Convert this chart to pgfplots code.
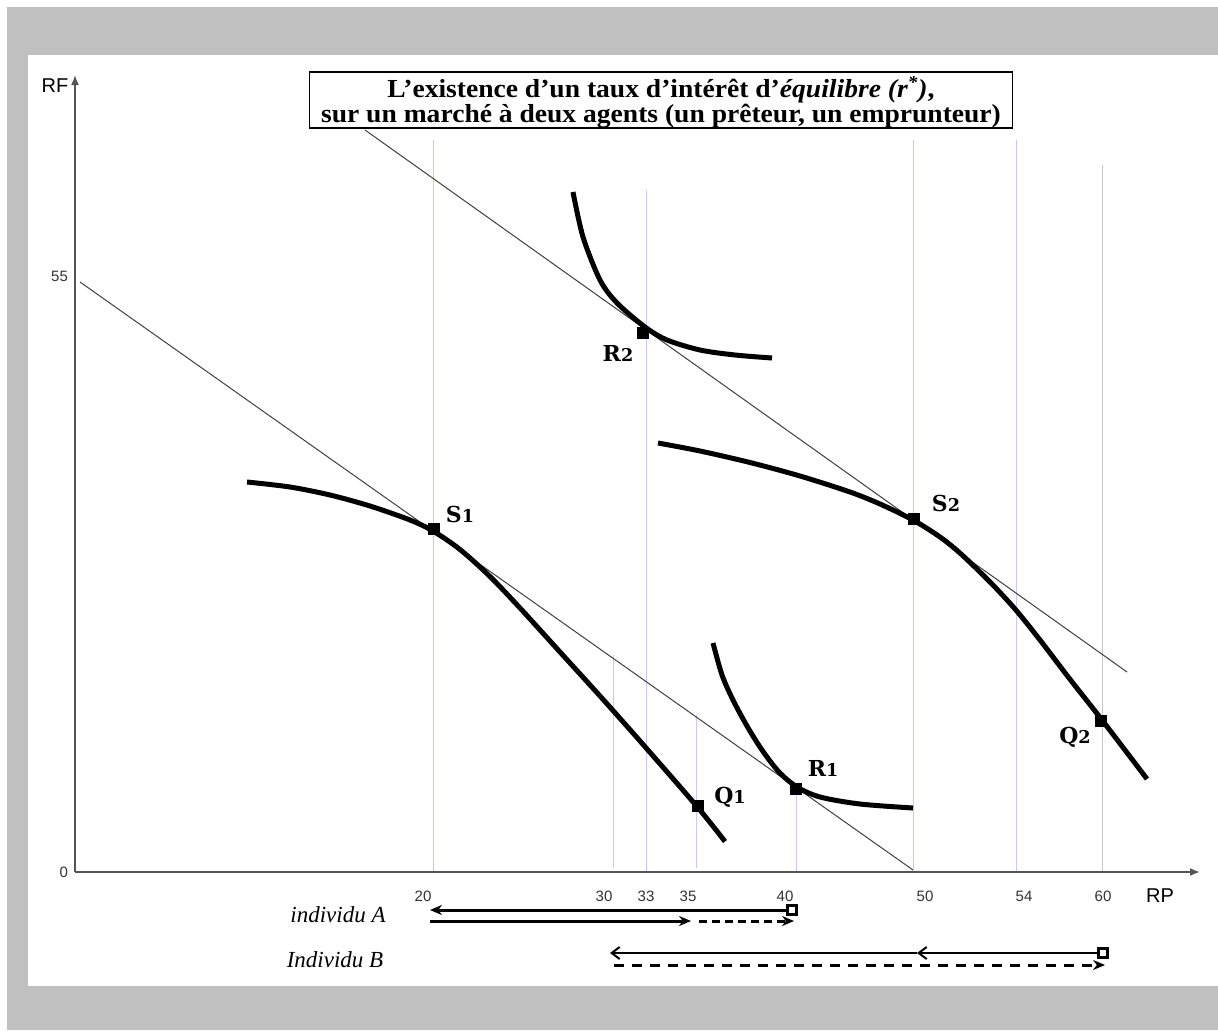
\documentclass[border=0pt]{standalone}
\usepackage{fontspec}
\setmainfont{Liberation Sans}
\newfontfamily\serifA{Liberation Serif}
\newfontfamily\serifB{DejaVu Serif}
\usepackage{pgfplots}
\pgfplotsset{compat=1.18}
\usetikzlibrary{arrows.meta}
\definecolor{bggray}{HTML}{C0C0C0}
\definecolor{vline}{HTML}{C8C8FF}
\definecolor{vgray}{HTML}{C8C8C8}
\definecolor{axgray}{HTML}{555555}
\definecolor{bline}{HTML}{404040}
\newcommand{\lbl}[2]{#1{\fontsize{8.8}{8.8}\selectfont #2}}
\begin{document}
\begin{tikzpicture}
\begin{axis}[
 x=0.5pt, y=0.5pt,
 xmin=0, xmax=1125, ymin=0, ymax=797,
 enlargelimits=false,
 clip=false,
 axis on top,
 axis lines=left,
 axis line style={draw=axgray, line width=0.8pt, -{Latex[length=5pt,width=4pt]}},
 xtick={348,529,571,613,710,850,949,1028},
 xticklabels={20,30,33,35,40,50,54,60},
 ytick={0,596},
 yticklabels={0,55},
 major tick length=0pt,
 tick style={draw=none},
 xticklabel style={font=\fontsize{7.5}{9}\selectfont, text=black!80, yshift=-6pt},
 yticklabel style={font=\fontsize{7.5}{9}\selectfont, text=black!80},
 /pgf/number format/assume math mode=true,
]
% background frame
\fill[white] (axis cs:-75,-158) rectangle (axis cs:1143,872);
\fill[bggray] (axis cs:-68,-158) rectangle (axis cs:1143,865);
\fill[white] (axis cs:-47,-114) rectangle (axis cs:1143,817);

% vertical guide lines
\addplot[vline, line width=0.5pt] coordinates {(358,0)(358,732)};
\addplot[vline, line width=0.5pt] coordinates {(571,0)(571,682)};
\addplot[vline, line width=0.5pt] coordinates {(838,0)(838,732)};
\addplot[vline, line width=0.5pt] coordinates {(941,0)(941,732)};
\addplot[vgray, line width=0.5pt] coordinates {(1027,0)(1027,707)};
\addplot[vline, line width=0.5pt] coordinates {(538,4)(538,217)};
\addplot[vline, line width=0.5pt] coordinates {(621,4)(621,157)};
\addplot[vline, line width=0.5pt] coordinates {(721,0)(721,87)};

% budget lines
\addplot[bline, line width=0.5pt] coordinates {(5,590)(838,2)};
\addplot[bline, line width=0.5pt] coordinates {(290,742)(1052,200)};

% curves
\addplot[black, line width=2.5pt, smooth] coordinates {
(172,390)(215,385)(255,377)(295,366)(335,352)(358,341)(385,322.5)(415,295.5)(445,264)(485,220)(525,176)(565,131)(622,65.5)(650,30.5)};
\addplot[black, line width=2.5pt, smooth] coordinates {
(583,429)(625,421)(675,409.5)(725,396)(775,380)(805,368)(838,352)(865,335)(886,318)(915,290)(940,263)(965,232)(994,194)(1027,152)(1072,93)};
\addplot[black, line width=2.5pt, smooth] coordinates {
(498,680)(508,635)(525,592)(542,569)(570,545)(592,532)(625,522)(660,517)(697,514)};
\addplot[black, line width=2.5pt, smooth] coordinates {
(638,229)(647,197)(658,172)(672,146)(687,122)(704,100)(722,85)(745,75)(785,68)(838,64)};

% points
\addplot[only marks, mark=square*, mark size=2.75pt, mark options={fill=black, draw=black}] coordinates {
(359,343)(839,353)(568,539)(721,83)(623,66)(1026,151)};

\node[font=\serifB\bfseries\fontsize{11}{13}\selectfont] at (axis cs:385,358) {\lbl{S}{1}};
\node[font=\serifB\bfseries\fontsize{11}{13}\selectfont] at (axis cs:871,369) {\lbl{S}{2}};
\node[font=\serifB\bfseries\fontsize{11}{13}\selectfont] at (axis cs:543,519) {\lbl{R}{2}};
\node[font=\serifB\bfseries\fontsize{11}{13}\selectfont] at (axis cs:748,104) {\lbl{R}{1}};
\node[font=\serifB\bfseries\fontsize{11}{13}\selectfont] at (axis cs:655,75) {\lbl{Q}{1}};
\node[font=\serifB\bfseries\fontsize{11}{13}\selectfont] at (axis cs:1000,135) {\lbl{Q}{2}};

% axis names
\node[font=\fontsize{10}{12}\selectfont] at (axis cs:-20,786) {RF};
\node[font=\fontsize{10}{12}\selectfont] at (axis cs:1085,-24) {RP};

% title
\node[draw=black, line width=0.8pt, fill=white, minimum width=351.5pt, minimum height=28pt, inner sep=0pt] at (axis cs:586,772) {};
\node[inner sep=0pt] at (axis cs:586,769)
 {\scalebox{1.06}[1]{\begin{tabular}{@{}c@{}}\serifA\bfseries\fontsize{13}{12.5}\selectfont L’existence d’un taux d’intérêt d’\textit{équilibre (r\textsuperscript{*})},\\[0pt] \serifA\bfseries\fontsize{13}{12.5}\selectfont sur un marché à deux agents (un prêteur, un emprunteur)\end{tabular}}};

% individual A
\node[font=\serifA\itshape\fontsize{11.5}{13}\selectfont] at (axis cs:263,-43) {individu A};
\addplot[black, line width=1.5pt, {Stealth[length=6pt,width=5pt]}-] coordinates {(355,-38)(717,-38)};
\addplot[black, line width=1.5pt, -{Stealth[length=6pt,width=5pt]}] coordinates {(355,-49)(616,-49)};
\addplot[black, line width=1.5pt, dash pattern=on 4pt off 2.5pt, -{Stealth[length=6pt,width=5pt]}] coordinates {(624,-49)(719,-49)};

% individual B
\node[font=\serifA\itshape\fontsize{11.5}{13}\selectfont] at (axis cs:260,-88) {Individu B};
\addplot[black, line width=1pt, -{Straight Barb[length=4pt,width=6pt]}] coordinates {(1028,-81)(842,-81)};
\addplot[black, line width=1pt, -{Straight Barb[length=4pt,width=6pt]}] coordinates {(842,-81)(535,-81)};
\addplot[black, line width=1.5pt, dash pattern=on 5pt off 4pt, -{Stealth[length=6pt,width=5pt]}] coordinates {(539,-93)(1030,-93)};

\addplot[only marks, mark=square*, mark size=2.2pt, mark options={fill=white, draw=black, line width=1.2pt}] coordinates {(717,-38)(1028,-81)};
\end{axis}
\end{tikzpicture}
\end{document}
